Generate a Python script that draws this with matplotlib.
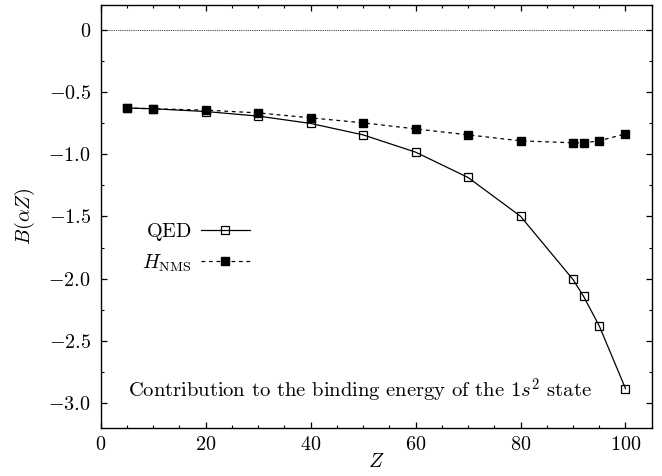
import numpy as np
import matplotlib
matplotlib.use("Agg")
import matplotlib.pyplot as plt
from matplotlib.ticker import MultipleLocator

plt.rcParams['font.family'] = ['cmr10', 'DejaVu Serif']
plt.rcParams['mathtext.fontset'] = 'cm'
plt.rcParams['axes.formatter.use_mathtext'] = True

# data
z = [5, 10, 20, 30, 40, 50, 60, 70, 80, 90, 92, 95, 100]
b_qed = [-0.627, -0.633, -0.655, -0.692, -0.751, -0.843, -0.982,
         -1.186, -1.498, -2.007, -2.142, -2.381, -2.885]
b_nms = [-0.627, -0.633, -0.644, -0.666, -0.706, -0.746, -0.795,
         -0.843, -0.891, -0.907, -0.907, -0.891, -0.835]

xticks = [0, 20, 40, 60, 80, 100]
yticks = [0, -0.5, -1.0, -1.5, -2.0, -2.5, -3.0]
ytick_labels = ['$0$', '$-0.5$', '$-1.0$', '$-1.5$', '$-2.0$', '$-2.5$', '$-3.0$']

fs = 14.5
fig = plt.figure(figsize=(6.62, 4.76), dpi=100)
ax = fig.add_axes([0.152, 0.1015, 0.8325, 0.8874])

ax.axhline(0, color='black', lw=0.6, ls=(0, (1, 1.2)))
ax.plot(z, b_qed, color='black', lw=0.9, marker='s', ms=5.2,
        mfc='none', mec='black', mew=0.9, label=r'$\mathrm{QED}$')
ax.plot(z, b_nms, color='black', lw=0.9, ls=(0, (3, 3)), marker='s', ms=5.15,
        mfc='black', mec='black', label=r'$H_{\rm NMS}$')

ax.set_xlim(0, 105)
ax.set_ylim(-3.2, 0.2)
ax.set_xticks(xticks)
ax.set_xticklabels(['$%d$' % t for t in xticks])
ax.set_yticks(yticks)
ax.set_yticklabels(ytick_labels)
ax.xaxis.set_minor_locator(MultipleLocator(5))
ax.yaxis.set_minor_locator(MultipleLocator(0.25))
ax.tick_params(which='both', direction='in', top=True, right=True, labelsize=fs)
ax.tick_params(which='major', length=4, width=0.9)
ax.tick_params(which='minor', length=2.5, width=0.8)
ax.tick_params(axis='y', pad=7)
ax.tick_params(axis='x', pad=6)
for s in ax.spines.values():
    s.set_linewidth(1.0)

ax.set_xlabel('$Z$', fontsize=fs, labelpad=-1)
ax.set_ylabel(r'$B(\alpha Z)$', fontsize=fs, labelpad=8)

ax.text(0.47, 0.054, r'Contribution to the binding energy of the $1s^2$ state',
        transform=ax.transAxes, ha='center', va='bottom', fontsize=14.8)

ax.legend(loc='center left', bbox_to_anchor=(0.042, 0.427), frameon=False,
          markerfirst=False, handlelength=2.4, handletextpad=0.5,
          numpoints=1, fontsize=fs, labelspacing=0.45)

fig.savefig('out.png', dpi=100)
